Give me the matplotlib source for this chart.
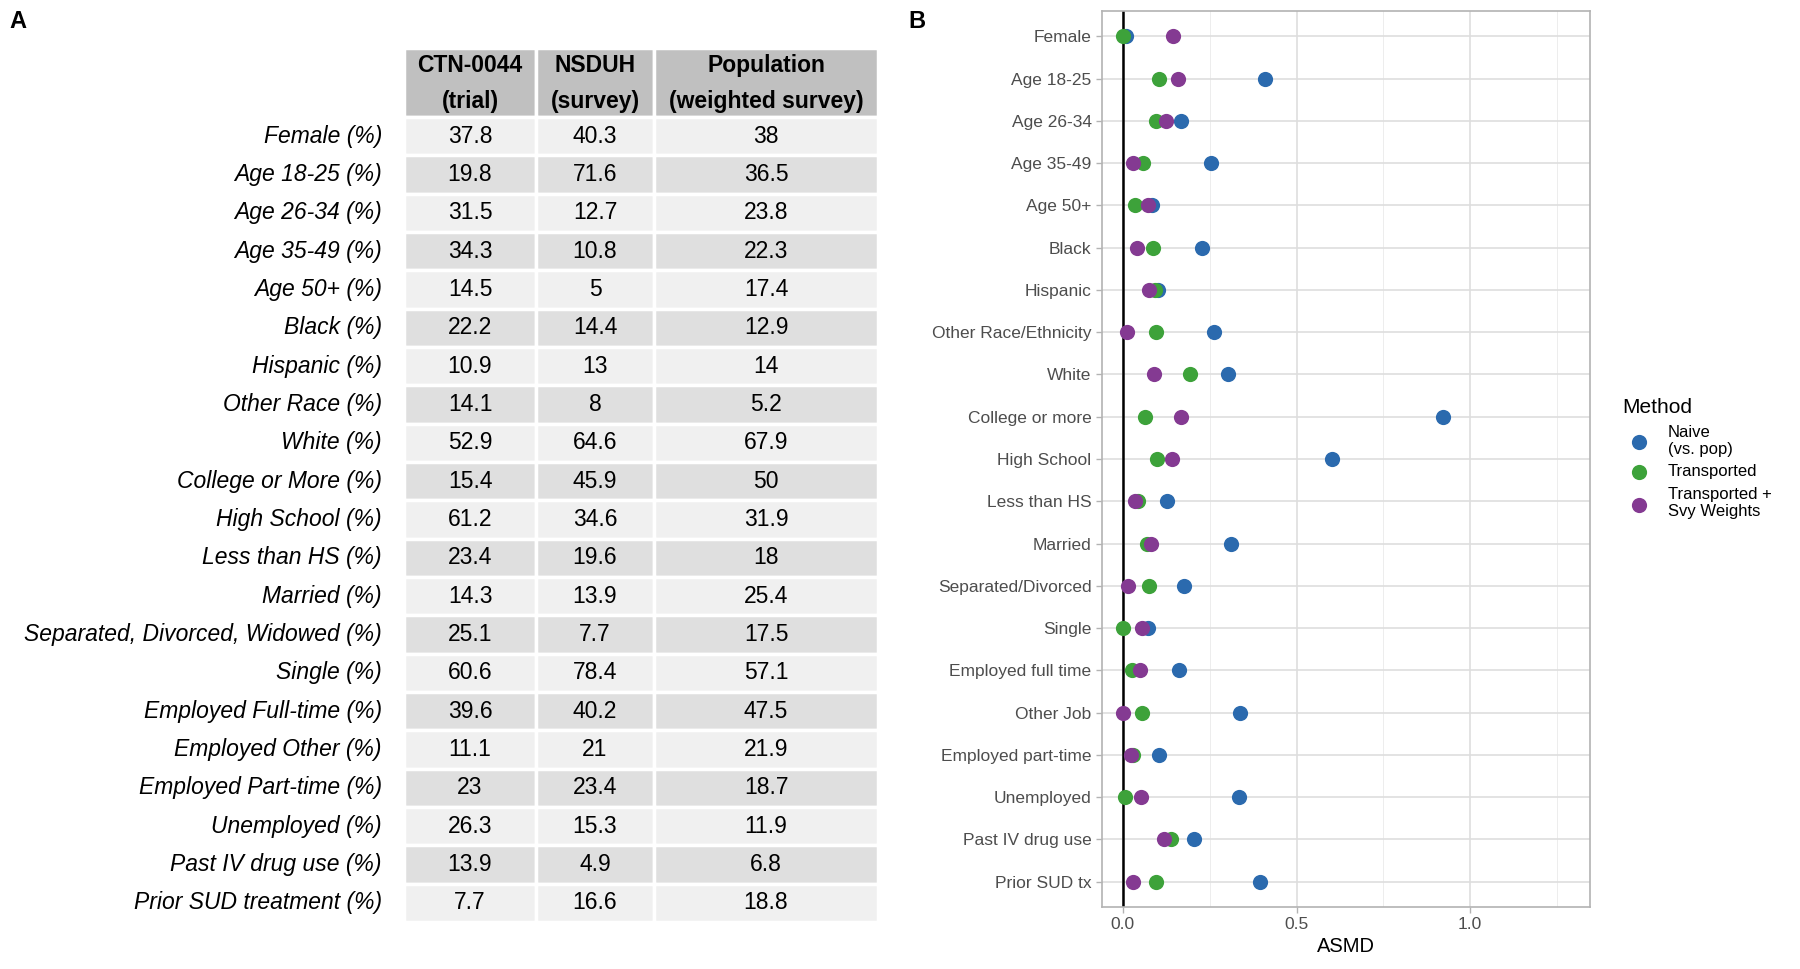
import matplotlib
matplotlib.use("Agg")
import matplotlib.pyplot as plt
from matplotlib.patches import Rectangle

plt.rcParams['font.family'] = ['Liberation Sans', 'DejaVu Sans']

# ---- panel A: table data ----
row_labels = ["Female (%)", "Age 18-25 (%)", "Age 26-34 (%)", "Age 35-49 (%)", "Age 50+ (%)",
              "Black (%)", "Hispanic (%)", "Other Race (%)", "White (%)", "College or More (%)",
              "High School (%)", "Less than HS (%)", "Married (%)",
              "Separated, Divorced, Widowed (%)", "Single (%)", "Employed Full-time (%)",
              "Employed Other (%)", "Employed Part-time (%)", "Unemployed (%)",
              "Past IV drug use (%)", "Prior SUD treatment (%)"]
col_headers = ["CTN-0044\n(trial)", "NSDUH\n(survey)", "Population\n(weighted survey)"]
trial = [37.8, 19.8, 31.5, 34.3, 14.5, 22.2, 10.9, 14.1, 52.9, 15.4, 61.2, 23.4, 14.3, 25.1,
         60.6, 39.6, 11.1, 23, 26.3, 13.9, 7.7]
survey = [40.3, 71.6, 12.7, 10.8, 5, 14.4, 13, 8, 64.6, 45.9, 34.6, 19.6, 13.9, 7.7,
          78.4, 40.2, 21, 23.4, 15.3, 4.9, 16.6]
population = [38, 36.5, 23.8, 22.3, 17.4, 12.9, 14, 5.2, 67.9, 50, 31.9, 18, 25.4, 17.5,
              57.1, 47.5, 21.9, 18.7, 11.9, 6.8, 18.8]

# ---- panel B: ASMD data ----
categories = ["Female", "Age 18-25", "Age 26-34", "Age 35-49", "Age 50+", "Black", "Hispanic",
              "Other Race/Ethnicity", "White", "College or more", "High School", "Less than HS",
              "Married", "Separated/Divorced", "Single", "Employed full time", "Other Job",
              "Employed part-time", "Unemployed", "Past IV drug use", "Prior SUD tx"]
naive = [0.010, 0.410, 0.167, 0.255, 0.083, 0.227, 0.100, 0.263, 0.303, 0.923, 0.603, 0.127,
         0.312, 0.177, 0.073, 0.162, 0.337, 0.104, 0.335, 0.206, 0.396]
transported = [0.000, 0.103, 0.096, 0.059, 0.035, 0.087, 0.092, 0.095, 0.194, 0.064, 0.097,
               0.045, 0.070, 0.074, 0.001, 0.026, 0.055, 0.030, 0.006, 0.140, 0.096]
weighted = [0.145, 0.160, 0.123, 0.028, 0.073, 0.040, 0.074, 0.012, 0.091, 0.167, 0.142, 0.035,
            0.082, 0.015, 0.056, 0.049, 0.000, 0.023, 0.053, 0.118, 0.029]
methods = ["Naive\n(vs. pop)", "Transported", "Transported +\nSvy Weights"]
colors = ["#2B6AAE", "#3DA23A", "#843A92"]

W, H = 1800, 969
fig = plt.figure(figsize=(W / 100, H / 100), dpi=100)

def px_axes(x0, y0, x1, y1):
    return fig.add_axes([x0 / W, 1 - y1 / H, (x1 - x0) / W, (y1 - y0) / H])

# ---- table ----
tab_x0, tab_x1, tab_y0, tab_y1 = 404, 878, 48, 922
col_w = [132, 118, 224]
head_h = 69
tax = px_axes(tab_x0, tab_y0, tab_x1, tab_y1)
tax.set_xlim(0, sum(col_w))
tax.set_ylim(tab_y1 - tab_y0, 0)
tax.axis("off")
row_h = (tab_y1 - tab_y0 - head_h) / len(row_labels)

x_left = [sum(col_w[:i]) for i in range(len(col_w))]
for j, head in enumerate(col_headers):
    tax.add_patch(Rectangle((x_left[j], 0), col_w[j], head_h, facecolor="#C0C0C0",
                            edgecolor="white", linewidth=2.5))
    tax.text(x_left[j] + col_w[j] / 2, head_h / 2 + 1, head, ha="center", va="center",
             fontsize=16.5, fontweight="bold", linespacing=1.7)

for i, lab in enumerate(row_labels):
    y = head_h + i * row_h
    fill = "#F0F0F0" if i % 2 == 0 else "#DFDFDF"
    vals = [trial[i], survey[i], population[i]]
    for j, v in enumerate(vals):
        tax.add_patch(Rectangle((x_left[j], y), col_w[j], row_h, facecolor=fill,
                                edgecolor="white", linewidth=2.5))
        tax.text(x_left[j] + col_w[j] / 2, y + row_h / 2, "{:g}".format(v), ha="center",
                 va="center", fontsize=16.5)
    tax.text(-22, y + row_h / 2, lab, ha="right", va="center", fontsize=16.5,
             style="italic", clip_on=False)

fig.text(9 / W, 1 - 21 / H, "A", fontsize=17, fontweight="bold", ha="left", va="center")
fig.text(908 / W, 1 - 21 / H, "B", fontsize=17, fontweight="bold", ha="left", va="center")

# ---- dot plot ----
ax = px_axes(1102, 11, 1590, 907)
ypos = list(range(len(categories)))
for vals, lab, c in zip([naive, transported, weighted], methods, colors):
    ax.scatter(vals, ypos, s=120, color=c, label=lab, zorder=3, linewidths=0)
ax.axvline(0, color="black", linewidth=1.8, zorder=2)
ax.set_xlim(-0.06, 1.345)
ax.set_ylim(len(categories) - 0.4, -0.6)
ax.set_yticks(ypos)
ax.set_yticklabels(categories)
ax.set_xticks([0, 0.5, 1.0])
ax.set_xticklabels(["0.0", "0.5", "1.0"])
ax.set_xticks([0.25, 0.75, 1.25], minor=True)
ax.grid(True, which="major", color="#DEDEDE", linewidth=1.2)
ax.grid(True, which="minor", axis="x", color="#EDEDED", linewidth=0.7)
ax.set_axisbelow(True)
for s in ax.spines.values():
    s.set_color("#B3B3B3")
    s.set_linewidth(1.2)
ax.tick_params(axis="both", which="major", color="#B3B3B3", length=4, width=1,
               labelsize=12.5, labelcolor="#4D4D4D")
ax.tick_params(axis="x", which="minor", length=0)
ax.set_xlabel("ASMD", fontsize=14.5, labelpad=3)

leg = fig.legend(loc="upper left", bbox_to_anchor=(1607 / W, 1 - 383 / H), frameon=False,
                 title="Method", fontsize=12, title_fontsize=15, markerscale=1.0,
                 handletextpad=0.75, labelspacing=0.45, alignment="left")

fig.savefig("out.png", dpi=100)
